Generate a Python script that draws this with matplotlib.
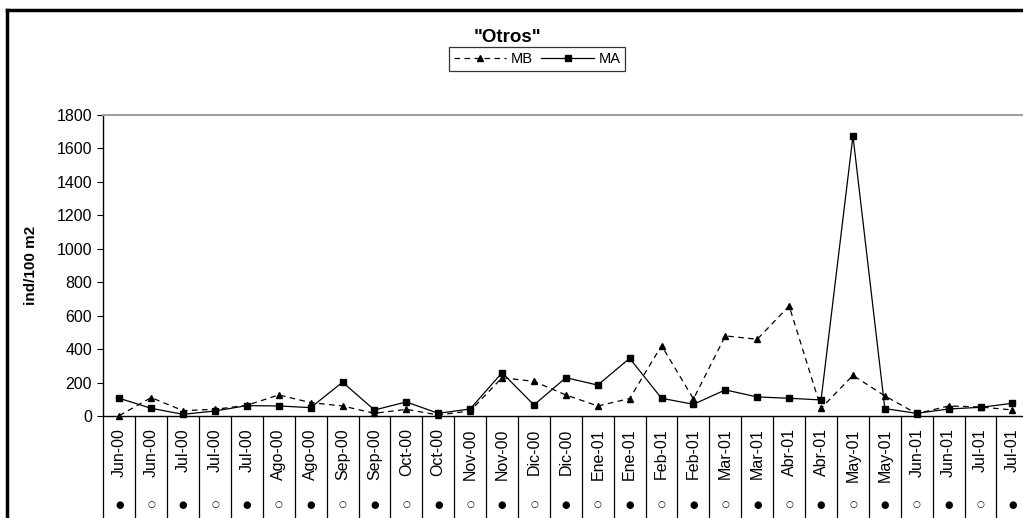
import matplotlib
matplotlib.use("Agg")
import matplotlib.pyplot as plt
from matplotlib.lines import Line2D
import matplotlib.transforms as mtransforms

plt.rcParams["font.family"] = ["Liberation Sans", "DejaVu Sans"]

# ------------------------------------------------------------------
# data
# ------------------------------------------------------------------
months = ["Jun-00", "Jun-00", "Jul-00", "Jul-00", "Jul-00", "Ago-00", "Ago-00",
          "Sep-00", "Sep-00", "Oct-00", "Oct-00", "Nov-00", "Nov-00", "Dic-00",
          "Dic-00", "Ene-01", "Ene-01", "Feb-01", "Feb-01", "Mar-01", "Mar-01",
          "Abr-01", "Abr-01", "May-01", "May-01", "Jun-01", "Jun-01", "Jul-01",
          "Jul-01"]
# lunar phase: 1 = filled dot, 0 = open dot
moon = [1, 0, 1, 0, 1, 0, 1, 0, 1, 0, 1, 0, 1, 0, 1, 0, 1, 0, 1, 0, 1, 0, 1, 0,
        1, 0, 1, 0, 1]
mb = [2, 110, 32, 40, 64, 126, 80, 60, 16, 40, 6, 30, 229, 207, 126, 60, 104,
      421, 102, 479, 459, 658, 46, 243, 120, 14, 60, 54, 36]
ma = [106, 46, 10, 30, 62, 60, 50, 202, 36, 84, 16, 42, 259, 66, 229, 185, 345,
      106, 70, 156, 114, 106, 96, 1675, 44, 16, 42, 52, 76]

x = list(range(len(months)))

# ------------------------------------------------------------------
# figure
# ------------------------------------------------------------------
W, H = 1023, 518
fig = plt.figure(figsize=(W / 100, H / 100), dpi=100)
fig.patch.set_facecolor("white")

left_px, right_px = 103.3, 103.3 + 29 * 31.9
top_px, bot_px = 115, 416
ax = fig.add_axes([left_px / W, 1 - bot_px / H,
                   (right_px - left_px) / W, (bot_px - top_px) / H])

ax.plot(x, mb, color="black", lw=0.9, ls=(0, (4.5, 3.5)), marker="^",
        markersize=5, clip_on=False, label="MB")
ax.plot(x, ma, color="black", lw=0.9, marker="s", markersize=4,
        clip_on=False, label="MA")

ax.set_xlim(-0.5, len(months) - 0.5)
ax.set_ylim(0, 1800)
ax.set_yticks(range(0, 1801, 200))
ax.tick_params(axis="y", direction="out", length=4, width=0.8,
               labelsize=11.5, pad=4)

ax.set_xticks(x)
ax.set_xticklabels(months, rotation=90, fontsize=11.5, va="top", ha="center")
ax.tick_params(axis="x", which="major", length=0, pad=9)
ax.set_xticks([i - 0.5 for i in range(len(months) + 1)], minor=True)
ax.tick_params(axis="x", which="minor", direction="out", length=80,
               width=0.9, color="black")

for s in ["left", "bottom"]:
    ax.spines[s].set_color("black")
    ax.spines[s].set_linewidth(1.0)
ax.spines["top"].set_color("#a0a0a0")
ax.spines["top"].set_linewidth(1.5)
ax.spines["right"].set_visible(False)

# lunar phase row
trans = mtransforms.blended_transform_factory(ax.transData, fig.transFigure)
for xi, m in zip(x, moon):
    ax.text(xi, 1 - 505 / H, "●" if m else "○", transform=trans,
            ha="center", va="center", fontsize=7 if m else 6.5,
            family="DejaVu Sans", clip_on=False)

ax.set_ylabel("ind/100 m2", fontsize=11, fontweight="bold")
ax.yaxis.set_label_coords(38 / W, 1 - 265 / H, transform=fig.transFigure)

fig.text(507 / W, 1 - 37 / H, '"Otros"', ha="center", va="center",
         fontsize=13.5, fontweight="bold")

leg = fig.legend(loc="center", bbox_to_anchor=(537 / W, 1 - 59 / H), ncol=2,
                 frameon=True, fancybox=False, edgecolor="black",
                 fontsize=10.5, handlelength=3.6, columnspacing=0.6,
                 handletextpad=0.3, borderpad=0.35)
leg.get_frame().set_linewidth(0.9)

# outer chart frame (left and top edges visible)
fig.add_artist(Line2D([7 / W, 7 / W], [0, 1 - 10 / H], color="black", lw=2.5))
fig.add_artist(Line2D([7 / W, 1], [1 - 10 / H, 1 - 10 / H], color="black", lw=2.5))

fig.savefig("out.png", dpi=100)
